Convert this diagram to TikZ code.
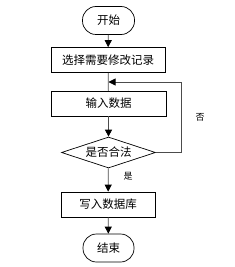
\documentclass[tikz,border=0pt]{standalone}
\usepackage{fontspec}
\setmainfont{Noto Sans CJK SC}
\usetikzlibrary{shapes.geometric,arrows.meta}
\begin{document}
\begin{tikzpicture}[x=1pt,y=-1pt,
  every node/.style={font=\fontsize{11.5}{13}\selectfont, inner sep=0pt},
  term/.style={draw=black, line width=0.7pt, rounded corners=13.5pt, minimum width=52pt, minimum height=28pt},
  proc/.style={draw=black, line width=0.7pt, minimum height=25pt},
  dec/.style={draw=black, line width=0.7pt, diamond, aspect=3, minimum width=94pt, minimum height=31pt},
  conn/.style={draw=black!70, line width=0.8pt},
  arr/.style={conn, -{Triangle[length=7pt,width=7pt,color=black]}},
  lbl/.style={font=\fontsize{9}{10}\selectfont}]
\useasboundingbox (0,0) rectangle (234,267);
\node[term] (start) at (108.5,20.5) {开始};
\node[proc, minimum width=114pt] (sel) at (108,60) {选择需要修改记录};
\node[proc, minimum width=115pt] (inp) at (108.5,103.5) {输入数据};
\node[dec] (chk) at (108.5,152.5) {是否合法};
\node[proc, minimum width=94pt] (wr) at (108,204.5) {写入数据库};
\node[term, minimum width=51pt] (fin) at (108.5,248) {结束};
\coordinate (join) at (108.5,82);
\coordinate (corner) at (181,82);
\draw[arr] (start) -- (sel);
\draw[conn] (sel) -- (inp);
\draw[arr] (inp) -- (chk);
\draw[arr] (chk) -- (wr);
\draw[arr] (wr) -- (fin);
\draw[arr] (chk.east) -| (corner) -- (join);
\node[lbl] (yes) at (128,176) {是};
\node[lbl] (no) at (200,117) {否};
\end{tikzpicture}
\end{document}
